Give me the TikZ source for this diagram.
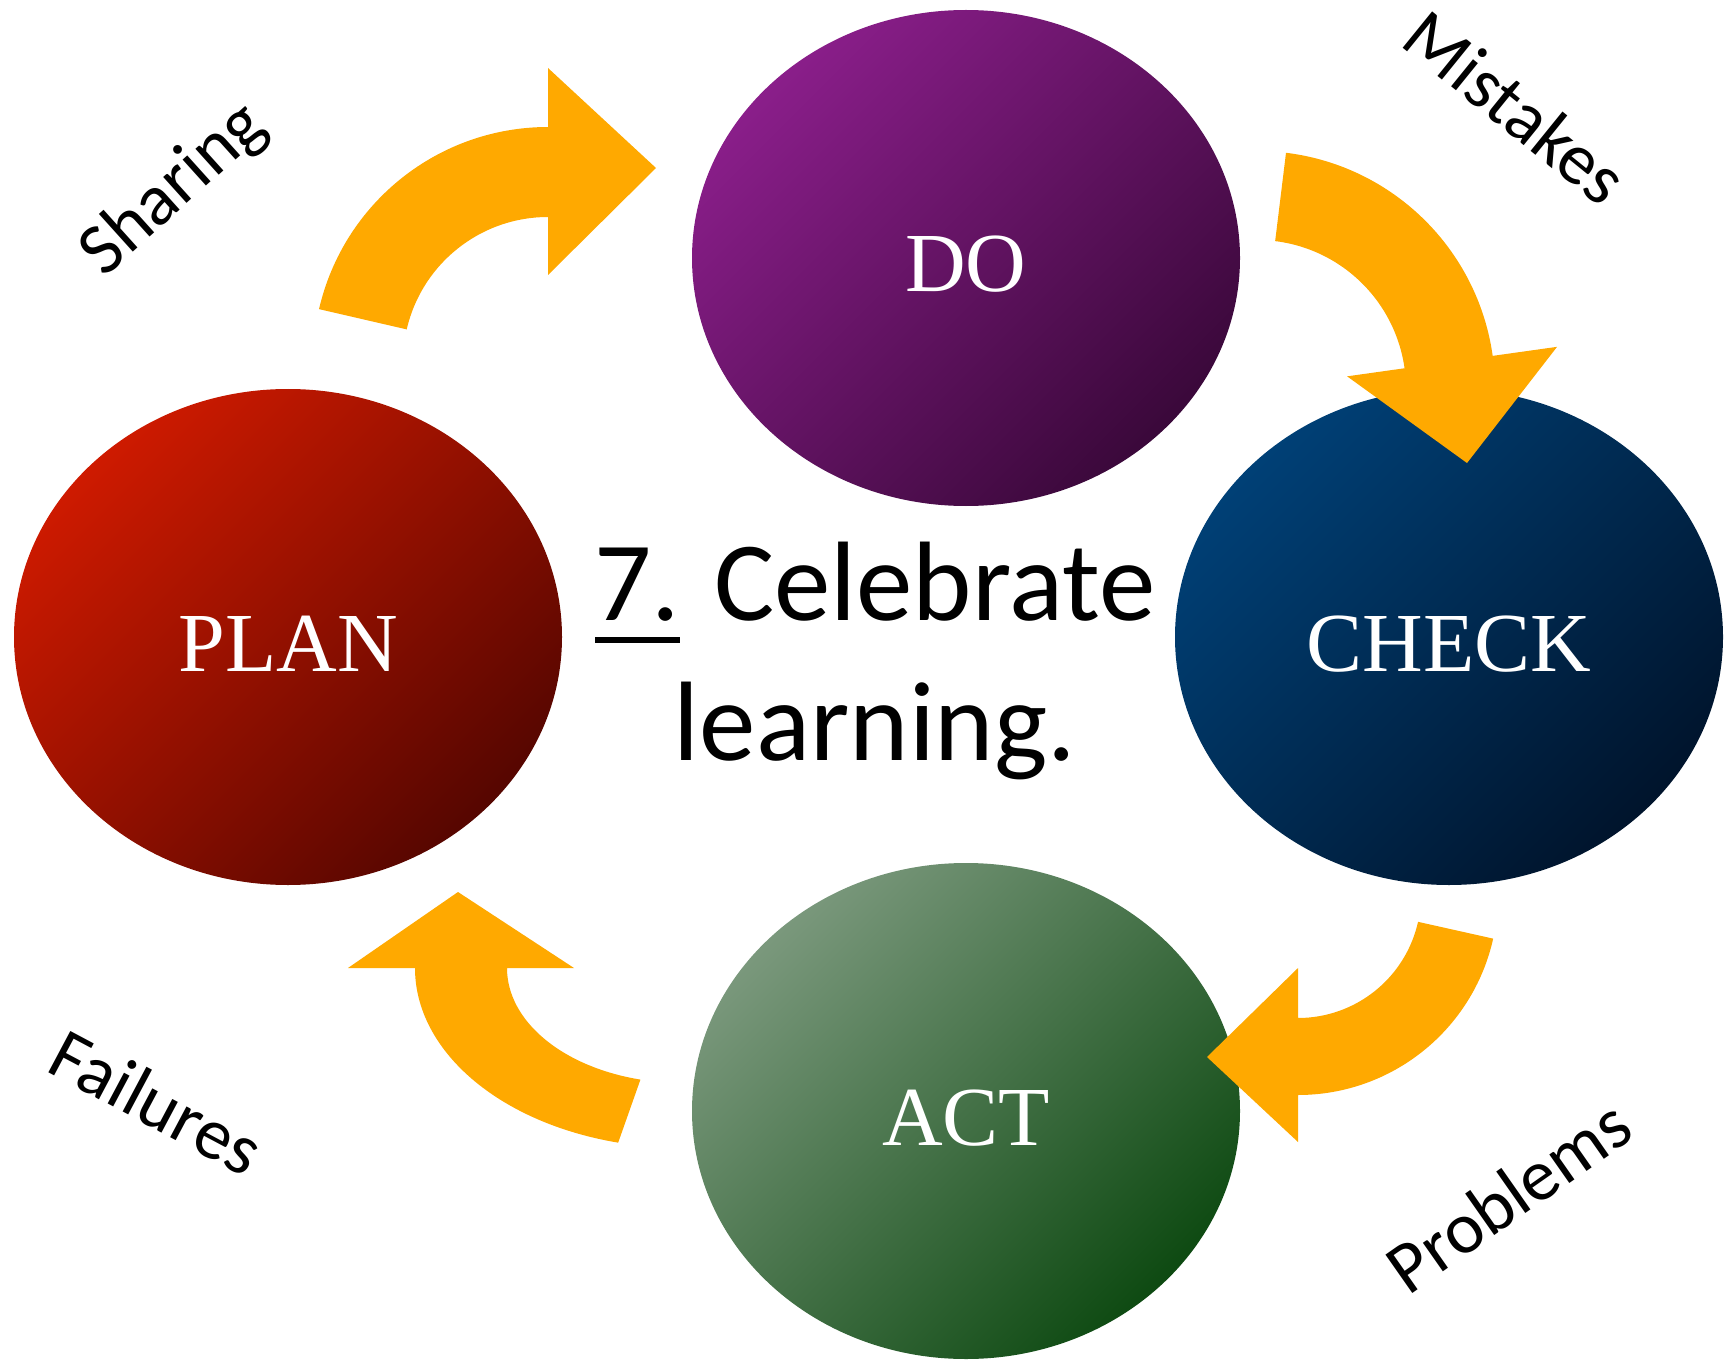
\documentclass[tikz,border=0pt]{standalone}
\usepackage{fontspec}
\setmainfont{Carlito}
\newfontfamily\romanface{Liberation Serif}
\usetikzlibrary{shapes.geometric}

\definecolor{flowgold}{RGB}{255,169,0}
\definecolor{doA}{RGB}{138,30,138}
\definecolor{doB}{RGB}{58,8,58}
\definecolor{planA}{RGB}{206,26,0}
\definecolor{planB}{RGB}{86,6,0}
\definecolor{checkA}{RGB}{0,64,118}
\definecolor{checkB}{RGB}{0,20,44}
\definecolor{actA}{RGB}{122,152,124}
\definecolor{actB}{RGB}{14,74,18}

% underline for the step number
\newcommand{\ulnum}[1]{\setbox0=\hbox{#1}\rlap{\rule[-22pt]{\wd0}{6pt}}#1}

\tikzset{
  phase/.style={ellipse, minimum width=548, minimum height=496, inner sep=0pt,
    text=white, font=\romanface\fontsize{84}{90}\selectfont,
    text height=68pt, text depth=0pt},
  tint/.style 2 args={top color=#1, bottom color=#2, shading angle=45},
  flow/.style={fill=flowgold},
  tag/.style={font=\fontsize{73}{86}\selectfont},
}

\begin{document}
\begin{tikzpicture}[x=1pt,y=-1pt]
\useasboundingbox (0,0) rectangle (1733,1364);

% the four phases
\node[phase, tint={doA}{doB}] (do) at (966,258) {DO};
\node[phase, tint={planA}{planB}] (plan) at (288,637) {PLAN};
\node[phase, tint={checkA}{checkB}] (check) at (1449,637) {CHECK};
\node[phase, tint={actA}{actB}] (act) at (966,1111) {ACT};

% curved arrows between them
\begin{scope}[shift={(548,362)}]
  \fill[flow] (193:235) arc[start angle=193, end angle=270, radius=235] -- (270:294) -- (108,-194) -- (270:87) -- (270:145) arc[start angle=270, end angle=193, radius=145] -- cycle;
\end{scope}
\begin{scope}[shift={(1257,389)}]
  \fill[flow] (-83:238) arc[start angle=-83, end angle=-8, radius=238] -- (-8:303) -- (210,74) -- (-8:91) -- (-8:149) arc[start angle=-8, end angle=-83, radius=149] -- cycle;
\end{scope}
\begin{scope}[shift={(1298,895)}]
  \fill[flow] (12.6:200) arc[start angle=12.6, end angle=90, radius=200] -- (90:247) -- (-91,162) -- (90:73) -- (90:123) arc[start angle=90, end angle=12.6, radius=123] -- cycle;
\end{scope}
\begin{scope}[shift={(683,968)}]
  \fill[flow] (104:268 and 180) arc[start angle=104, end angle=180, x radius=268, y radius=180] -- (-335,0) -- (-225,-76) -- (-109,0) -- (-176,0) arc[start angle=180, end angle=104, x radius=176, y radius=115] -- cycle;
\end{scope}

% what each step runs into
\node[tag, rotate=42] (sharing) at (174,190) {Sharing};
\node[tag, rotate=-39] (mistakes) at (1516,107) {Mistakes};
\node[tag, rotate=35] (problems) at (1508,1196) {Problems};
\node[tag, rotate=-28] (failures) at (157,1102) {Failures};

% centre text
\node[font=\fontsize{113}{140}\selectfont, align=center] (motto) at (875,661) {\ulnum{7.} Celebrate\\learning.};
\end{tikzpicture}
\end{document}
